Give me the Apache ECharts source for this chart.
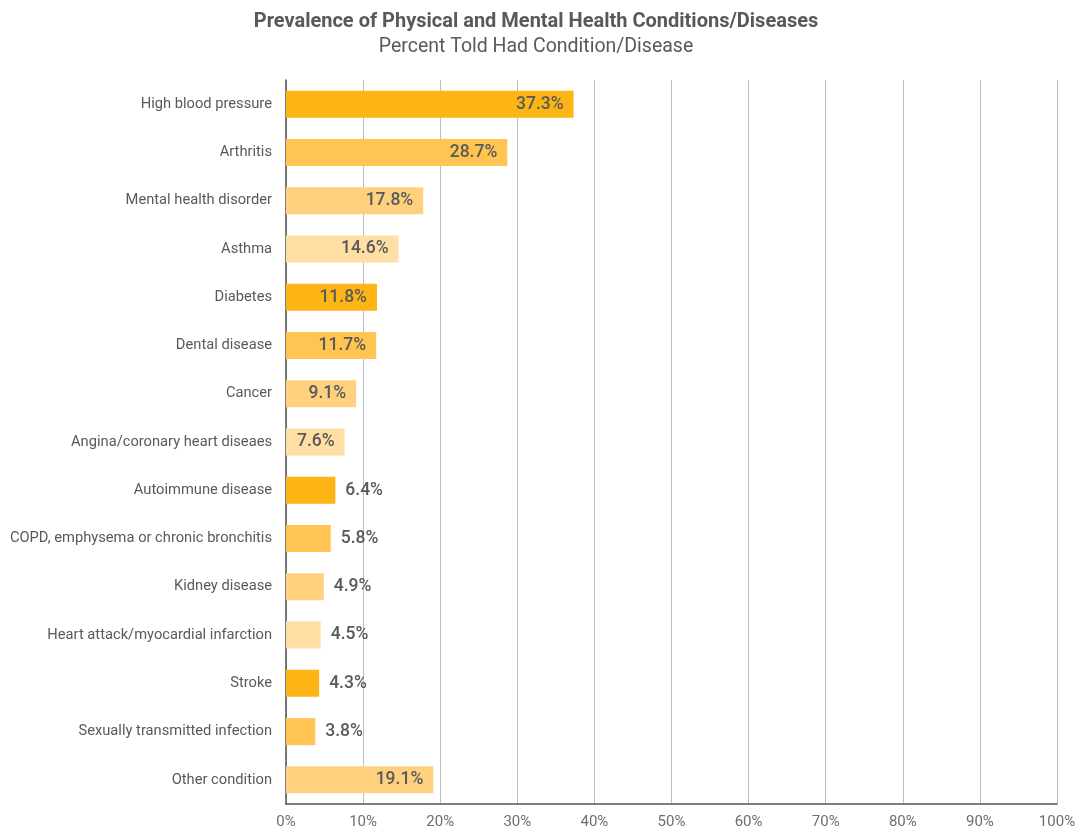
<!DOCTYPE html>
<html>
<head>
<meta charset="utf-8">
<title>Prevalence of Physical and Mental Health Conditions</title>
<script src="https://cdn.jsdelivr.net/npm/echarts@6/dist/echarts.min.js"></script>
<style>
    html, body { margin: 0; padding: 0; background: #fff; }
    #chart_con { width: 1089px; height: 834px; }
</style>
</head>
<body>
<div id="chart_con"></div>
<script>
// categories, top to bottom as in the picture
var conditions = [
    'High blood pressure',
    'Arthritis',
    'Mental health disorder',
    'Asthma',
    'Diabetes',
    'Dental disease',
    'Cancer',
    'Angina/coronary heart diseaes',
    'Autoimmune disease',
    'COPD, emphysema or chronic bronchitis',
    'Kidney disease',
    'Heart attack/myocardial infarction',
    'Stroke',
    'Sexually transmitted infection',
    'Other condition'
];
var percentTold = [37.3, 28.7, 17.8, 14.6, 11.8, 11.7, 9.1, 7.6, 6.4, 5.8, 4.9, 4.5, 4.3, 3.8, 19.1];
var xTicks = [0, 10, 20, 30, 40, 50, 60, 70, 80, 90, 100];

// bar shades repeat every four rows
var shades = ['#FDB515', '#FFC451', '#FFD17F', '#FFDFA4'];
var textColor = '#58595b';

var chart = echarts.init(document.getElementById('chart_con'));

var barData = percentTold.map(function (v, i) {
    return {
        value: v,
        itemStyle: { color: shades[i % shades.length] },
        label: {
            position: v >= 7 ? 'insideRight' : 'right',
            distance: 10
        }
    };
});

var option = {
    animation: false,
    backgroundColor: '#fff',
    textStyle: { fontFamily: 'Roboto' },
    title: {
        text: 'Prevalence of Physical and Mental Health Conditions/Diseases',
        subtext: 'Percent Told Had Condition/Disease',
        left: 531,
        top: 7,
        textAlign: 'center',
        itemGap: 5,
        textStyle: { fontSize: 20, fontWeight: 'bold', color: '#58595b', fontFamily: 'Roboto' },
        subtextStyle: { fontSize: 19.5, color: '#58595b', fontFamily: 'Roboto' }
    },
    grid: {
        left: 286,
        right: 32,
        top: 80,
        bottom: 30,
        containLabel: false
    },
    xAxis: {
        type: 'value',
        min: xTicks[0],
        max: xTicks[xTicks.length - 1],
        interval: 10,
        axisLine: { show: true, lineStyle: { color: '#555', width: 1.5 } },
        axisTick: { show: false },
        splitLine: { show: true, lineStyle: { color: '#bdbdbd', width: 1 } },
        axisLabel: {
            formatter: '{value}%',
            color: '#6d6e71',
            fontSize: 15,
            margin: 11
        }
    },
    yAxis: {
        type: 'category',
        inverse: true,
        data: conditions,
        axisLine: { show: true, lineStyle: { color: '#555', width: 1.5 } },
        axisTick: { show: false },
        axisLabel: {
            color: textColor,
            fontSize: 14.7,
            margin: 14
        }
    },
    series: [
        {
            name: 'Percent Told Had Condition/Disease',
            type: 'bar',
            barWidth: 27,
            data: barData,
            label: {
                show: true,
                formatter: function (p) { return p.value.toFixed(1) + '%'; },
                color: textColor,
                fontSize: 17.5,
                fontWeight: 500
            }
        }
    ]
};
chart.setOption(option);
window.addEventListener('resize', function () {
    chart.resize();
});
</script>
</body>
</html>
